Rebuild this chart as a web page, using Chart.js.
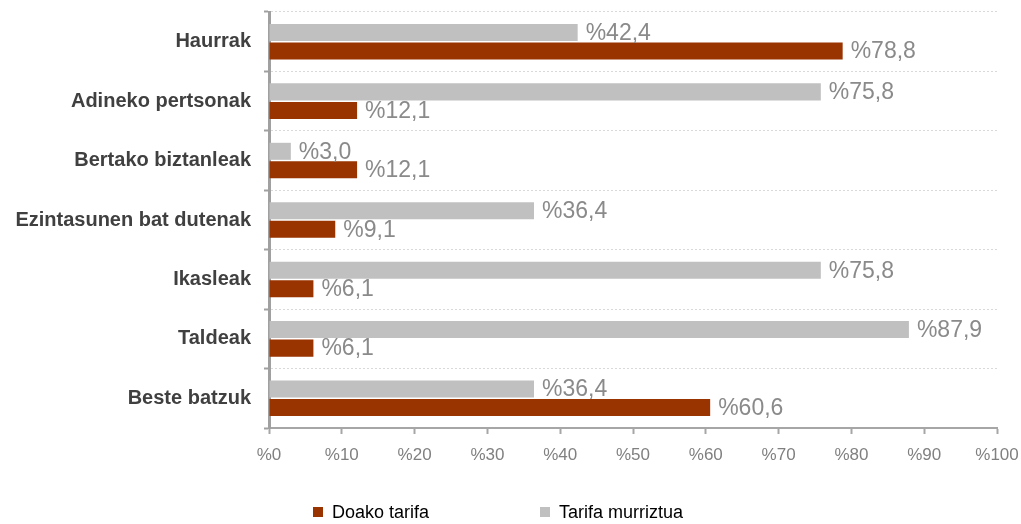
<!DOCTYPE html>
<html>
<head>
<meta charset="utf-8">
<script src="https://cdn.jsdelivr.net/npm/chart.js@4/dist/chart.umd.min.js"></script>
<style>
html,body{margin:0;padding:0;background:#fff;}
canvas{display:block;}
</style>
</head>
<body>
<canvas id="c" width="1021" height="524"></canvas>
<script>
const categories = ["Haurrak", "Adineko pertsonak", "Bertako biztanleak", "Ezintasunen bat dutenak", "Ikasleak", "Taldeak", "Beste batzuk"];
const tarifaMurriztua = [42.4, 75.8, 3.0, 36.4, 75.8, 87.9, 36.4];
const doakoTarifa = [78.8, 12.1, 12.1, 9.1, 6.1, 6.1, 60.6];
const xTicks = [0, 10, 20, 30, 40, 50, 60, 70, 80, 90, 100];
const legendOrder = ["Doako tarifa", "Tarifa murriztua"];

const RED = "#993300";
const GREY = "#c0c0c0";
const FONT = "'Liberation Sans', Arial, sans-serif";

const fmt = v => "%" + v.toFixed(1).replace(".", ",");

const noPad = s => { s.paddingLeft = 0; s.paddingRight = 0; s.paddingTop = 0; s.paddingBottom = 0; };

const valueLabels = {
  id: "valueLabels",
  afterDatasetsDraw(chart) {
    const ctx = chart.ctx;
    ctx.save();
    ctx.font = "23px " + FONT;
    ctx.fillStyle = "#8a8a8a";
    ctx.textAlign = "left";
    ctx.textBaseline = "middle";
    chart.data.datasets.forEach((ds, di) => {
      const meta = chart.getDatasetMeta(di);
      meta.data.forEach((el, i) => {
        ctx.fillText(fmt(ds.data[i]), el.x + 8, el.y + 1);
      });
    });
    ctx.restore();
  }
};

const customLegend = {
  id: "customLegend",
  afterDraw(chart) {
    const ctx = chart.ctx;
    ctx.save();
    ctx.font = "18px " + FONT;
    ctx.textBaseline = "middle";
    ctx.textAlign = "left";
    const y = 512;
    let x = 313;
    legendOrder.forEach(name => {
      const ds = chart.data.datasets.find(d => d.label === name);
      ctx.fillStyle = ds.backgroundColor;
      ctx.fillRect(x, y - 5, 10, 10);
      ctx.fillStyle = "#000";
      ctx.fillText(name, x + 19, y + 1);
      x += 227;
    });
    ctx.restore();
  }
};

new Chart(document.getElementById("c"), {
  type: "bar",
  data: {
    labels: categories,
    datasets: [
      { label: "Tarifa murriztua", data: tarifaMurriztua, backgroundColor: GREY,
        categoryPercentage: 0.623, barPercentage: 0.92 },
      { label: "Doako tarifa", data: doakoTarifa, backgroundColor: RED,
        categoryPercentage: 0.623, barPercentage: 0.92 }
    ]
  },
  options: {
    indexAxis: "y",
    responsive: false,
    animation: false,
    events: [],
    layout: { padding: { top: 12, right: 24, left: 0, bottom: 36 } },
    plugins: {
      legend: { display: false },
      tooltip: { enabled: false },
      title: { display: false }
    },
    scales: {
      x: {
        min: 0, max: 100,
        afterBuildTicks: s => { s.ticks = xTicks.map(v => ({ value: v })); },
        afterFit: s => { s.height = 60; noPad(s); },
        ticks: {
          callback: v => "%" + v,
          color: "#808080",
          font: { family: FONT, size: 17 },
          padding: 11,
          maxRotation: 0
        },
        grid: {
          drawOnChartArea: false,
          drawTicks: true,
          tickLength: 6,
          tickColor: "#a6a6a6",
          tickWidth: 2
        },
        border: { display: true, color: "#a6a6a6", width: 2 }
      },
      y: {
        afterFit: s => { s.width = 269; noPad(s); },
        ticks: {
          color: "#404040",
          font: { family: FONT, size: 20, weight: "bold" },
          padding: 13
        },
        grid: {
          offset: true,
          color: "#d9d9d9",
          lineWidth: 1,
          drawTicks: true,
          tickLength: 5,
          tickColor: "#a0a0a0",
          tickWidth: 2,
          tickBorderDash: []
        },
        border: { display: true, color: "#a0a0a0", width: 3, dash: [2, 2] }
      }
    }
  },
  plugins: [valueLabels, customLegend]
});
</script>
</body>
</html>
